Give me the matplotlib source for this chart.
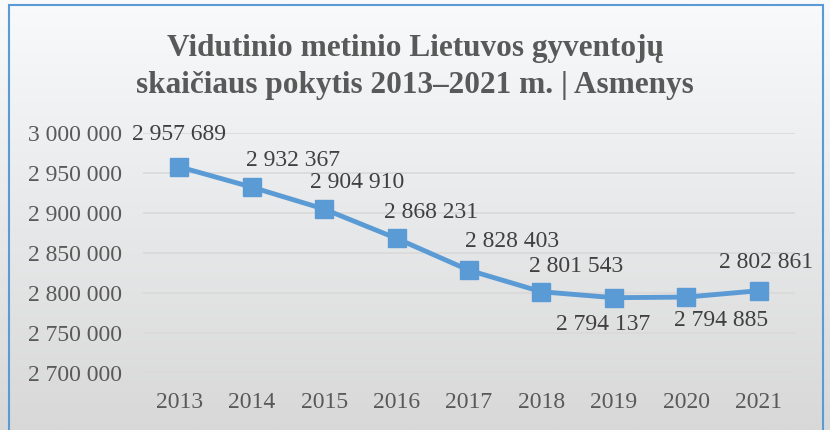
import numpy as np
import matplotlib.pyplot as plt
from matplotlib.patches import Rectangle
from matplotlib.ticker import FuncFormatter

years = ["2013", "2014", "2015", "2016", "2017", "2018", "2019", "2020", "2021"]
population = [2957689, 2932367, 2904910, 2868231, 2828403, 2801543, 2794137, 2794885, 2802861]

title = "Vidutinio metinio Lietuvos gyventojų\nskaičiaus pokytis 2013–2021 m. | Asmenys"

# where the data labels sit relative to their marker (pixels, x right / y up)
label_dx = [0, 41, 33, 35, 43, 35, -11, 35, 7]
label_dy = [32, 27, 27, 26, 29, 25, -27, -23, 28]


def spaced(v, pos=None):
    return f"{int(round(v)):,}".replace(",", " ")


plt.rcParams["font.family"] = ["Liberation Serif", "DejaVu Serif"]

fig = plt.figure(figsize=(8.3, 4.3), dpi=100)

# background gradient + blue frame
bg = fig.add_axes([0, 0, 1, 1], zorder=-5)
grad = np.linspace(0, 1, 256).reshape(-1, 1)
top = np.array([0xf8, 0xfa, 0xfc]) / 255
bot = np.array([0xd8, 0xd8, 0xd8]) / 255
img = top + (bot - top) * grad[:, :, None]
bg.imshow(img, aspect="auto", extent=[0, 1, 0, 1], origin="upper")
bg.add_patch(Rectangle((9 / 830, -0.01), (823 - 9) / 830, 1 - 5 / 430 + 0.01,
                       fill=False, edgecolor="#5b9bd5", linewidth=1.5))
bg.set_xlim(0, 1)
bg.set_ylim(0, 1)
bg.axis("off")

ax = fig.add_axes([143 / 830, 1 - 373 / 430, (795 - 143) / 830, (373 - 133) / 430])
ax.patch.set_alpha(0)

x = np.arange(len(years))
ax.plot(x, population, color="#5b9bd5", linewidth=3.5, marker="s", markersize=12.5,
        zorder=3, solid_capstyle="round")

px = 72 / fig.dpi
for xi, v, dx, dy in zip(x, population, label_dx, label_dy):
    ax.annotate(spaced(v), (xi, v), xytext=(dx * px, dy * px), textcoords="offset points",
                ha="center", va="center", fontsize=17, color="#404040")

ax.set_xlim(-0.5, len(years) - 0.5)
ax.set_ylim(2700000, 3000000)
ax.set_yticks(np.arange(2700000, 3000001, 50000))
ax.yaxis.set_major_formatter(FuncFormatter(spaced))
ax.set_xticks(x)
ax.set_xticklabels(years)
ax.tick_params(axis="both", length=0, labelsize=17, labelcolor="#595959")
ax.tick_params(axis="y", pad=15)
ax.tick_params(axis="x", pad=14)
ax.grid(axis="y", color="#d9d9d9", linewidth=1.2)
for s in ax.spines.values():
    s.set_visible(False)

fig.text(0.5, 1 - 67 / 430, title, ha="center", va="center", fontsize=22.5,
         fontweight="bold", color="#595959", linespacing=1.36)

fig.savefig("out.png", dpi=100)
